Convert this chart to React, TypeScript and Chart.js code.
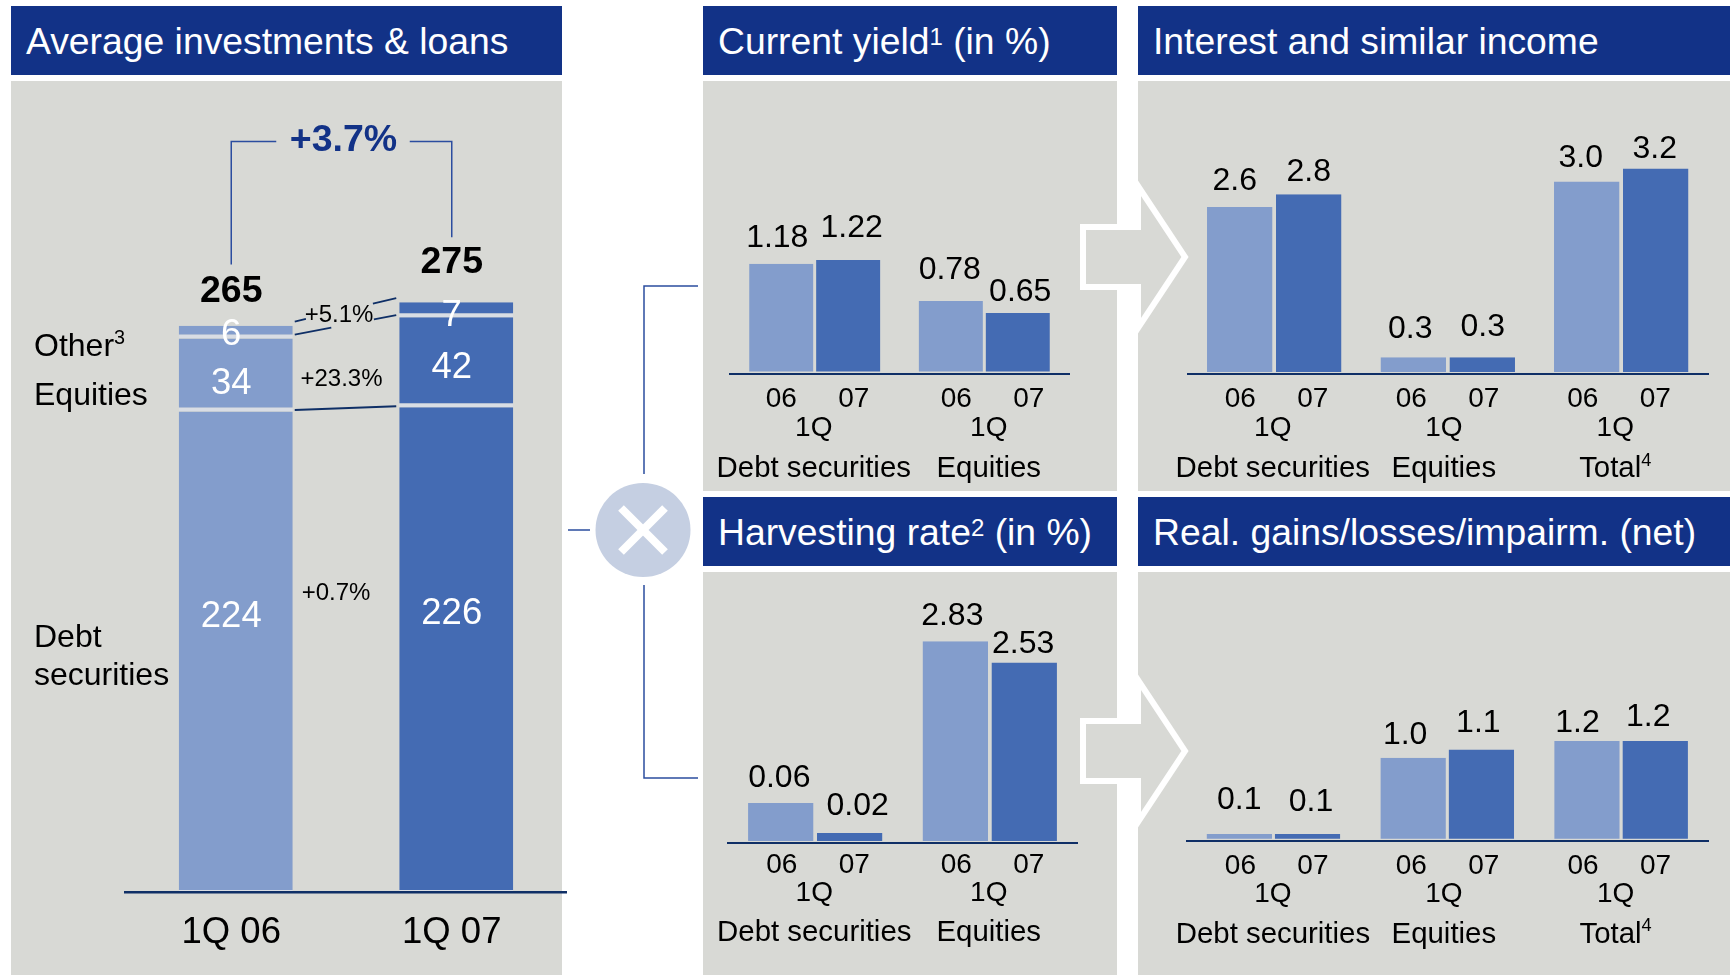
import React, { useEffect, useRef } from "react";
import { Chart, registerables } from "chart.js";

Chart.register(...registerables);

// ---------- data ----------
const quarters = ["1Q 06", "1Q 07"];
const debtSecurities = [224, 226];
const equities = [34, 42];
const other = [6, 7];
const totals = [265, 275];
const totalGrowth = "+3.7%";
const debtGrowth = "+0.7%";
const equitiesGrowth = "+23.3%";
const otherGrowth = "+5.1%";

const periodLabels = ["06", "07"];
const quarterLabel = "1Q";

const twoGroups = ["Debt securities", "Equities"];
const threeGroups = ["Debt securities", "Equities", "Total"];
const threeGroupNotes = ["", "", "4"];

const currentYield06 = [1.18, 0.78];
const currentYield07 = [1.22, 0.65];
const currentYieldLabels06 = ["1.18", "0.78"];
const currentYieldLabels07 = ["1.22", "0.65"];

// Bar heights; the debt bars are drawn taller than their printed values.
const harvesting06 = [0.56, 2.83];
const harvesting07 = [0.14, 2.53];
const harvestingLabels06 = ["0.06", "2.83"];
const harvestingLabels07 = ["0.02", "2.53"];

const interest06 = [2.6, 0.26, 3.0];
const interest07 = [2.8, 0.26, 3.2];
const interestLabels06 = ["2.6", "0.3", "3.0"];
const interestLabels07 = ["2.8", "0.3", "3.2"];

const realised06 = [0.08, 1.0, 1.2];
const realised07 = [0.08, 1.1, 1.2];
const realisedLabels06 = ["0.1", "1.0", "1.2"];
const realisedLabels07 = ["0.1", "1.1", "1.2"];

// ---------- style ----------
const FONT = '"Liberation Sans", Arial, sans-serif';
const NAVY = "#123287";
const PANEL = "#d8d9d5";
const LIGHT = "#839dcc";
const DARK = "#446bb3";
const AXIS = "#0f2f66";
const LINE = "#2b4d9f";

function drawText(ctx: any, text: string, x: number, y: number, size: number, color = "#000", bold = false, align = "center") {
  ctx.font = `${bold ? "bold " : ""}${size}px ${FONT}`;
  ctx.fillStyle = color;
  ctx.textAlign = align;
  ctx.textBaseline = "middle";
  ctx.fillText(text, x, y);
}

function drawWithNote(ctx: any, text: string, note: string, x: number, y: number, size: number, align = "center") {
  ctx.font = `${size}px ${FONT}`;
  const w = ctx.measureText(text).width;
  ctx.font = `${size * 0.62}px ${FONT}`;
  const nw = note ? ctx.measureText(note).width : 0;
  const left = align === "center" ? x - (w + nw) / 2 : x;
  drawText(ctx, text, left, y, size, "#000", false, "left");
  if (note) drawText(ctx, note, left + w, y - size * 0.28, size * 0.62, "#000", false, "left");
}

function groupedConfig(p: any) {
  const canvasHeight = p.rect.h;
  const baseY = p.baseline - p.rect.y;
  return {
    type: "bar",
    data: {
      labels: p.groups,
      datasets: [
        { label: periodLabels[0], data: p.v06, backgroundColor: LIGHT },
        { label: periodLabels[1], data: p.v07, backgroundColor: DARK },
      ].map((d) => ({
        ...d,
        barPercentage: p.barPct,
        categoryPercentage: p.catPct,
        borderColor: PANEL,
        borderWidth: { top: 0, left: 0, right: 0, bottom: 2 },
        borderSkipped: false,
        inflateAmount: 0,
      })),
    },
    options: {
      animation: false,
      responsive: false,
      maintainAspectRatio: false,
      layout: {
        padding: {
          left: p.axisL - p.rect.x,
          right: p.rect.x + p.rect.w - p.axisR,
          top: 0,
          bottom: canvasHeight - baseY,
        },
      },
      plugins: { legend: { display: false }, tooltip: { enabled: false } },
      scales: {
        x: {
          grid: { display: false, drawTicks: false },
          border: { display: true, color: AXIS, width: 2, z: 1 },
          ticks: { display: false },
        },
        y: { display: false, min: 0, max: baseY / p.pxPerUnit },
      },
    },
    plugins: [
      {
        id: "panelText",
        afterDraw(chart: any) {
          const ctx = chart.ctx;
          const sx = chart.scales.x;
          ctx.save();
          [p.lab06, p.lab07].forEach((labels: string[], ds: number) => {
            const meta = chart.getDatasetMeta(ds);
            labels.forEach((t, i) => {
              const el = meta.data[i];
              const n = p.nudges[ds][i];
              drawText(ctx, t, el.x + n[0], el.y + n[1] + 1.5, 32);
            });
          });
          p.groups.forEach((g: string, i: number) => {
            const cx = sx.getPixelForValue(i) + p.groupShift[i];
            drawText(ctx, periodLabels[0], cx - 32.5, baseY + p.rows[0] + 1.5, 28);
            drawText(ctx, periodLabels[1], cx + 40, baseY + p.rows[0] + 1.5, 28);
            drawText(ctx, quarterLabel, cx, baseY + p.rows[1] + 1.5, 28);
            drawWithNote(ctx, g, p.notes ? p.notes[i] : "", cx, baseY + p.rows[2] + 2, 29.4);
          });
          ctx.restore();
        },
      },
    ],
  };
}

const PANELS_TOP = { y: 81, h: 410 };
const PANELS_BOTTOM = { y: 572, h: 403 };

const smallCharts = [
  {
    rect: { x: 703, w: 414, ...PANELS_TOP },
    axisL: 730, axisR: 1069, baseline: 373.5, pxPerUnit: 93,
    barPct: 0.96, catPct: 0.79,
    groups: twoGroups, notes: null,
    v06: currentYield06, v07: currentYield07,
    lab06: currentYieldLabels06, lab07: currentYieldLabels07,
    nudges: [[[-4, -27], [-1, -32]], [[3.4, -33], [2.5, -22]]],
    groupShift: [-1, 4.5],
    rows: [24, 53, 93],
  },
  {
    rect: { x: 703, w: 414, ...PANELS_BOTTOM },
    axisL: 728, axisR: 1077, baseline: 843, pxPerUnit: 71.3,
    barPct: 0.95, catPct: 0.79,
    groups: twoGroups, notes: null,
    v06: harvesting06, v07: harvesting07,
    lab06: harvestingLabels06, lab07: harvestingLabels07,
    nudges: [[[-1.5, -26.5], [-3, -27]], [[8, -28], [-1, -19.5]]],
    groupShift: [-1, -1],
    rows: [21, 49, 88],
  },
  {
    rect: { x: 1138, w: 592, ...PANELS_TOP },
    axisL: 1187.5, axisR: 1708, baseline: 374, pxPerUnit: 64.2,
    barPct: 0.95, catPct: 0.795,
    groups: threeGroups, notes: threeGroupNotes,
    v06: interest06, v07: interest07,
    lab06: interestLabels06, lab07: interestLabels07,
    nudges: [[[-5, -27], [-3, -30], [-6, -25]], [[0, -23.5], [0.5, -32], [-1, -21]]],
    groupShift: [-1.5, -3.9, -6],
    rows: [24, 53, 93],
  },
  {
    rect: { x: 1138, w: 592, ...PANELS_BOTTOM },
    axisL: 1186.5, axisR: 1708, baseline: 840.7, pxPerUnit: 83,
    barPct: 0.96, catPct: 0.785,
    groups: threeGroups, notes: threeGroupNotes,
    v06: realised06, v07: realised07,
    lab06: realisedLabels06, lab07: realisedLabels07,
    nudges: [[[0, -35], [-8, -24.5], [-9.5, -19]], [[3.5, -33], [-3, -28], [-7, -25]]],
    groupShift: [-0.5, -3.4, -5.5],
    rows: [24, 52, 92],
  },
];

const LEFT_W = 620;
const LEFT_H = 977;
const LEFT_BASE = 892;

function leftConfig() {
  const seg = (label: string, data: number[], bottom: number) => ({
    label,
    data,
    backgroundColor: [LIGHT, DARK],
    borderColor: "#d9dde4",
    borderWidth: { top: 0, left: 0, right: 0, bottom },
    borderSkipped: false,
    inflateAmount: 0,
    barPercentage: 0.517,
    categoryPercentage: 1,
  });
  const segNudges = [
    [[-4.5, -35], [-4.5, -36]],
    [[-4.5, 9], [-4.5, 6]],
    [[-4.5, 3], [-4.5, 6]],
  ];
  return {
    type: "bar",
    data: {
      labels: quarters,
      datasets: [
        seg("Debt securities", debtSecurities, 2),
        seg("Equities", equities, 4),
        seg("Other", other, 4),
      ],
    },
    options: {
      animation: false,
      responsive: false,
      maintainAspectRatio: false,
      layout: { padding: { left: 125.5, right: LEFT_W - 566.5, top: 0, bottom: 0 } },
      plugins: { legend: { display: false }, tooltip: { enabled: false } },
      scales: {
        x: {
          stacked: true,
          afterFit: (s: any) => { s.height = LEFT_H - LEFT_BASE; },
          grid: { display: false, drawTicks: false },
          border: { display: true, color: AXIS, width: 2.5, z: 1 },
          ticks: {
            color: "#000",
            font: { family: FONT, size: 36.5 },
            padding: 19,
            labelOffset: -4.5,
            maxRotation: 0,
          },
        },
        y: { display: false, stacked: true, min: 0, max: LEFT_BASE / 2.145 },
      },
    },
    plugins: [
      {
        id: "leftText",
        afterDraw(chart: any) {
          const ctx = chart.ctx;
          const y = chart.scales.y;
          ctx.save();
          [debtSecurities, equities, other].forEach((vals, ds) => {
            const meta = chart.getDatasetMeta(ds);
            vals.forEach((v, i) => {
              const el = meta.data[i];
              const n = segNudges[ds][i];
              drawText(ctx, String(v), el.x + n[0], (el.y + el.base) / 2 + n[1], 36.5, "#fff");
            });
          });
          const m = chart.getDatasetMeta(2);
          const x0 = m.data[0].x - 4.5;
          const x1 = m.data[1].x - 4.5;
          const topA = y.getPixelForValue(totals[0]);
          const topB = y.getPixelForValue(totals[1]);
          drawText(ctx, String(totals[0]), x0, topA - 32, 37.5, "#000", true);
          drawText(ctx, String(totals[1]), x1, topB - 39.5, 37.5, "#000", true);

          // growth bracket
          ctx.strokeStyle = LINE;
          ctx.lineWidth = 1.5;
          ctx.beginPath();
          ctx.moveTo(x0, topA - 59);
          ctx.lineTo(x0, 141.5);
          ctx.lineTo(x0 + 45, 141.5);
          ctx.moveTo(x1, topB - 65);
          ctx.lineTo(x1, 141.5);
          ctx.lineTo(x1 - 42, 141.5);
          ctx.stroke();
          drawText(ctx, totalGrowth, 343.5, 141, 37.5, NAVY, true);

          // connectors between the stacks
          const bw = m.data[0].width / 2;
          const fromX = m.data[0].x + bw + 2;
          const toX = m.data[1].x - bw - 3;
          const yBoundA = y.getPixelForValue(debtSecurities[0]);
          const yBoundB = y.getPixelForValue(debtSecurities[1]);
          const yEqA = y.getPixelForValue(debtSecurities[0] + equities[0]);
          const yEqB = y.getPixelForValue(debtSecurities[1] + equities[1]);
          const conn = (ya: number, yb: number, gap?: number[]) => {
            const pt = (t: number) => [fromX + (toX - fromX) * t, ya + (yb - ya) * t];
            const parts = gap ? [[0, gap[0]], [gap[1], 1]] : [[0, 1]];
            ctx.beginPath();
            parts.forEach(([a, b]) => {
              const pa = pt(a);
              const pb = pt(b);
              ctx.moveTo(pa[0], pa[1]);
              ctx.lineTo(pb[0], pb[1]);
            });
            ctx.stroke();
          };
          ctx.strokeStyle = AXIS;
          ctx.lineWidth = 1.8;
          conn(yBoundA - 1.5, yBoundB - 1, undefined);
          conn(topA - 2, topB - 4, [0.11, 0.77]);
          conn(yEqA - 4, yEqB - 2, [0.36, 0.78]);

          drawText(ctx, otherGrowth, 339, 315, 24);
          drawText(ctx, equitiesGrowth, 341.5, 379, 24);
          drawText(ctx, debtGrowth, 336, 593.5, 24);

          drawWithNote(ctx, "Other", "3", 34, 347, 32, "left");
          drawText(ctx, "Equities", 34, 396.5, 32, "#000", false, "left");
          drawText(ctx, "Debt", 34, 638, 32, "#000", false, "left");
          drawText(ctx, "securities", 34, 676, 32, "#000", false, "left");
          ctx.restore();
        },
      },
    ],
  };
}

function ChartCanvas({ config, x, y, w, h }: any) {
  const ref = useRef<HTMLCanvasElement>(null);
  useEffect(() => {
    const chart = new Chart(ref.current as any, config);
    return () => chart.destroy();
  }, []);
  return (
    <canvas
      ref={ref}
      width={w}
      height={h}
      style={{ position: "absolute", left: x, top: y, width: w, height: h, display: "block" }}
    />
  );
}

function Header({ x, y, w, h, children }: any) {
  return (
    <div
      style={{
        position: "absolute", left: x, top: y, width: w, height: h, background: NAVY, color: "#fff",
        font: `37.3px ${FONT}`, lineHeight: `${h + 1}px`, paddingLeft: 15, boxSizing: "border-box", whiteSpace: "nowrap",
      }}
    >
      {children}
    </div>
  );
}

const Sup = ({ children }: any) => (
  <span style={{ fontSize: 24, position: "relative", top: -9, lineHeight: 0 }}>{children}</span>
);

const Panel = ({ x, y, w, h }: any) => (
  <div style={{ position: "absolute", left: x, top: y, width: w, height: h, background: PANEL }} />
);

function Arrow({ dy }: { dy: number }) {
  const pts = [[1083, 227], [1138, 227], [1138, 186], [1185, 257], [1138, 328], [1138, 287], [1083, 287]]
    .map(([a, b]) => `${a},${b + dy}`)
    .join(" ");
  return <polygon points={pts} fill={PANEL} stroke="#fff" strokeWidth={6} />;
}

export default function App() {
  return (
    <div style={{ position: "absolute", left: 0, top: 0, width: 1732, height: 977, overflow: "hidden", background: "#fff" }}>
      <Header x={11} y={6} w={551} h={69}>Average investments &amp; loans</Header>
      <Header x={703} y={6} w={414} h={69}>Current yield<Sup>1</Sup> (in %)</Header>
      <Header x={1138} y={6} w={592} h={69}>Interest and similar income</Header>
      <Header x={703} y={497} w={414} h={69}>Harvesting rate<Sup>2</Sup> (in %)</Header>
      <Header x={1138} y={497} w={592} h={69}>Real. gains/losses/impairm. (net)</Header>

      <Panel x={11} y={81} w={551} h={894} />
      <Panel x={703} y={81} w={414} h={410} />
      <Panel x={1138} y={81} w={592} h={410} />
      <Panel x={703} y={572} w={414} h={403} />
      <Panel x={1138} y={572} w={592} h={403} />

      <svg width={1732} height={977} style={{ position: "absolute", left: 0, top: 0 }}>
        <Arrow dy={0} />
        <Arrow dy={494} />
        <path d="M568 530H590M644 474V286H698M644 585V778H698" fill="none" stroke={LINE} strokeWidth={1.5} />
        <ellipse cx={643} cy={530} rx={47.5} ry={47} fill="#c5cfe2" />
        <path d="M621 508L665 552M665 508L621 552" stroke="#fff" strokeWidth={8} fill="none" />
      </svg>

      <ChartCanvas config={leftConfig()} x={0} y={0} w={LEFT_W} h={LEFT_H} />
      {smallCharts.map((c, i) => (
        <ChartCanvas key={i} config={groupedConfig(c)} x={c.rect.x} y={c.rect.y} w={c.rect.w} h={c.rect.h} />
      ))}
    </div>
  );
}
